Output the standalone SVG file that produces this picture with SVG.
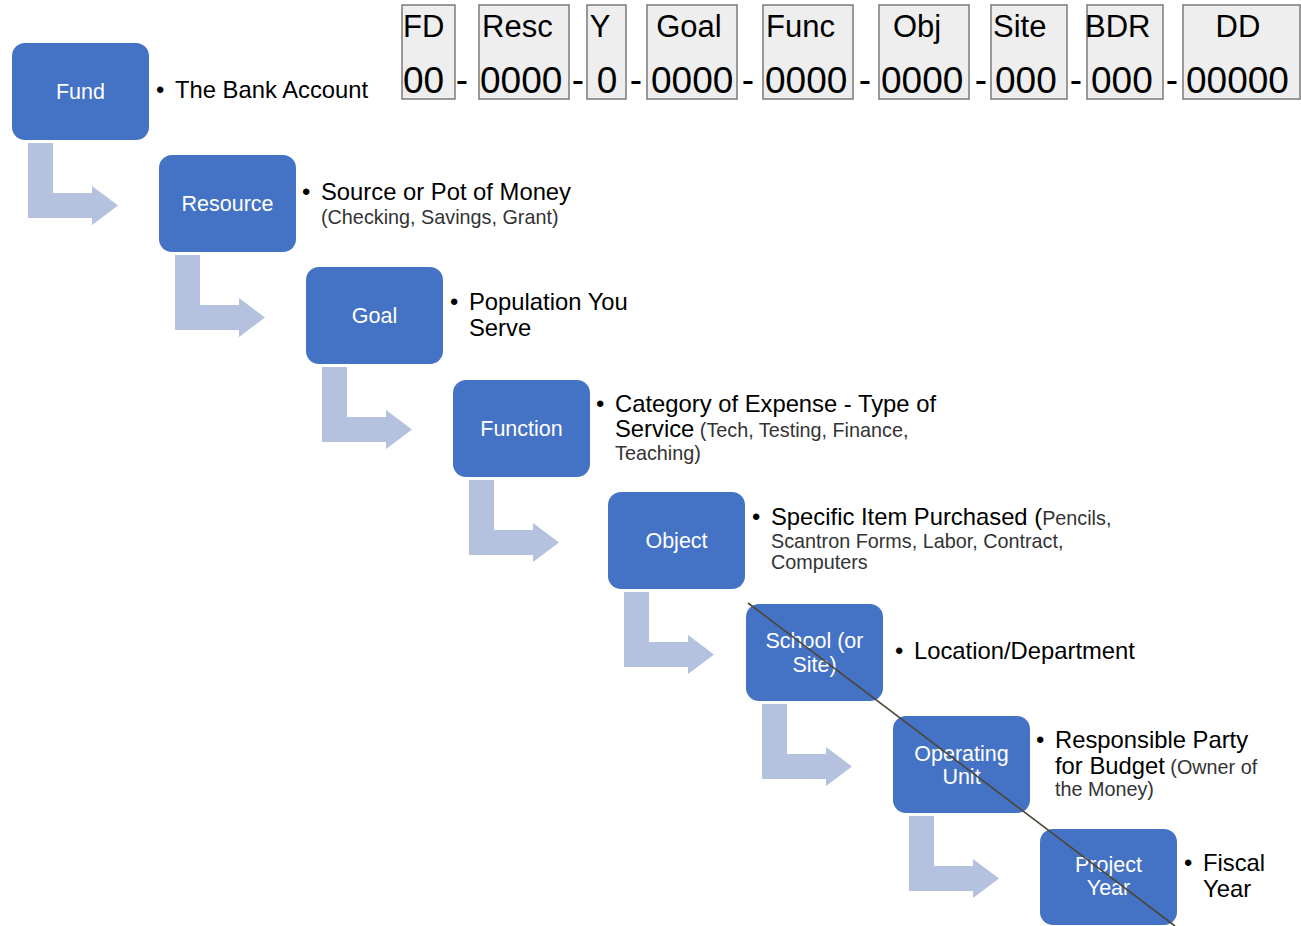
<svg xmlns="http://www.w3.org/2000/svg" xmlns:xlink="http://www.w3.org/1999/xlink" width="1301" height="926" viewBox="0 0 1301 926">
<style>
.node{fill:#4472c4}
.nt{font-family:"Liberation Sans",Arial,sans-serif;font-size:21.5px;fill:#ffffff;text-anchor:middle}
.hb{fill:#eeeeee;stroke:#7a7a7a;stroke-width:1.5}
.hl{font-family:"Liberation Sans",Arial,sans-serif;font-size:31px;fill:#000}
.hn{font-family:"Liberation Sans",Arial,sans-serif;font-size:37px;fill:#000}
.d{font-family:"Liberation Sans",Arial,sans-serif;font-size:23.8px;fill:#000}
.s{font-family:"Liberation Sans",Arial,sans-serif;font-size:19.8px;fill:#333}
.arr{fill:#b4c1df}
</style>
<defs>
<path id="bend" class="arr" d="M16,100 L41,100 L41,150 L80,150 L80,143 L106,162.5 L80,182 L80,175 L16,175 Z"/>
</defs>
<rect width="1301" height="926" fill="#ffffff"/>

<g id="header">
<rect class="hb" x="402" y="5" width="53" height="94"/>
<rect class="hb" x="479" y="5" width="90" height="94"/>
<rect class="hb" x="587" y="5" width="39" height="94"/>
<rect class="hb" x="647" y="5" width="90" height="94"/>
<rect class="hb" x="763" y="5" width="90" height="94"/>
<rect class="hb" x="879" y="5" width="90" height="94"/>
<rect class="hb" x="991" y="5" width="76" height="94"/>
<rect class="hb" x="1087" y="5" width="76" height="94"/>
<rect class="hb" x="1183" y="5" width="117" height="94"/>
<text class="hl" x="403" y="37">FD</text>
<text class="hl" x="482" y="37">Resc</text>
<text class="hl" x="600" y="37" text-anchor="middle">Y</text>
<text class="hl" x="689" y="37" text-anchor="middle">Goal</text>
<text class="hl" x="766" y="37">Func</text>
<text class="hl" x="917" y="37" text-anchor="middle">Obj</text>
<text class="hl" x="993" y="37">Site</text>
<text class="hl" x="1085" y="37">BDR</text>
<text class="hl" x="1238" y="37" text-anchor="middle">DD</text>
<text class="hn" x="403" y="93">00</text>
<text class="hn" x="480" y="93">0000</text>
<text class="hn" x="607" y="93" text-anchor="middle">0</text>
<text class="hn" x="651" y="93">0000</text>
<text class="hn" x="765" y="93">0000</text>
<text class="hn" x="881" y="93">0000</text>
<text class="hn" x="995" y="93">000</text>
<text class="hn" x="1091" y="93">000</text>
<text class="hn" x="1186" y="93">00000</text>
<text class="hn" x="462" y="92" text-anchor="middle">-</text>
<text class="hn" x="578" y="92" text-anchor="middle">-</text>
<text class="hn" x="636" y="92" text-anchor="middle">-</text>
<text class="hn" x="748" y="92" text-anchor="middle">-</text>
<text class="hn" x="865" y="92" text-anchor="middle">-</text>
<text class="hn" x="981" y="92" text-anchor="middle">-</text>
<text class="hn" x="1076" y="92" text-anchor="middle">-</text>
<text class="hn" x="1172" y="92" text-anchor="middle">-</text>
</g>

<g id="connectors">
<use xlink:href="#bend" x="12" y="43"/>
<use xlink:href="#bend" x="159" y="155"/>
<use xlink:href="#bend" x="306" y="267"/>
<use xlink:href="#bend" x="453" y="380"/>
<use xlink:href="#bend" x="608" y="492"/>
<use xlink:href="#bend" x="746" y="604"/>
<use xlink:href="#bend" x="893" y="716"/>
</g>

<g id="fund">
<rect class="node" x="12" y="43" width="137" height="97" rx="13"/>
<text class="nt" x="80.5" y="99">Fund</text>
<text class="d" x="156" y="98">•</text>
<text class="d" x="175" y="98">The Bank Account</text>
</g>

<g id="resource">
<rect class="node" x="159" y="155" width="137" height="97" rx="13"/>
<text class="nt" x="227.5" y="211">Resource</text>
<text class="d" x="302" y="200">•</text>
<text class="d" x="321" y="200">Source or Pot of Money</text>
<text class="s" x="321" y="224">(Checking, Savings, Grant)</text>
</g>

<g id="goal">
<rect class="node" x="306" y="267" width="137" height="97" rx="13"/>
<text class="nt" x="374.5" y="323">Goal</text>
<text class="d" x="450" y="310">•</text>
<text class="d" x="469" y="310">Population You</text>
<text class="d" x="469" y="336">Serve</text>
</g>

<g id="function">
<rect class="node" x="453" y="380" width="137" height="97" rx="13"/>
<text class="nt" x="521.5" y="436">Function</text>
<text class="d" x="596" y="412">•</text>
<text class="d" x="615" y="412">Category of Expense - Type of</text>
<text class="d" x="615" y="437">Service<tspan class="s"> (Tech, Testing, Finance,</tspan></text>
<text class="s" x="615" y="460">Teaching)</text>
</g>

<g id="object">
<rect class="node" x="608" y="492" width="137" height="97" rx="13"/>
<text class="nt" x="676.5" y="548">Object</text>
<text class="d" x="752" y="525">•</text>
<text class="d" x="771" y="525">Specific Item Purchased (<tspan class="s">Pencils,</tspan></text>
<text class="s" x="771" y="548">Scantron Forms, Labor, Contract,</text>
<text class="s" x="771" y="569">Computers</text>
</g>

<g id="school">
<rect class="node" x="746" y="604" width="137" height="97" rx="13"/>
<text class="nt" x="814.5" y="648">School (or</text>
<text class="nt" x="814.5" y="672">Site)</text>
<text class="d" x="895" y="659">•</text>
<text class="d" x="914" y="659">Location/Department</text>
</g>

<g id="operating-unit">
<rect class="node" x="893" y="716" width="137" height="97" rx="13"/>
<text class="nt" x="961.5" y="761">Operating</text>
<text class="nt" x="961.5" y="784">Unit</text>
<text class="d" x="1036" y="748">•</text>
<text class="d" x="1055" y="748">Responsible Party</text>
<text class="d" x="1055" y="774">for Budget<tspan class="s"> (Owner of</tspan></text>
<text class="s" x="1055" y="796">the Money)</text>
</g>

<g id="project-year">
<rect class="node" x="1040" y="829" width="137" height="96" rx="13"/>
<text class="nt" x="1108.5" y="872">Project</text>
<text class="nt" x="1108.5" y="895">Year</text>
<text class="d" x="1184" y="871">•</text>
<text class="d" x="1203" y="871">Fiscal</text>
<text class="d" x="1203" y="897">Year</text>
</g>

<line id="strike" x1="748" y1="603" x2="1175" y2="926" stroke="#4d4535" stroke-width="1.6"/>
</svg>
